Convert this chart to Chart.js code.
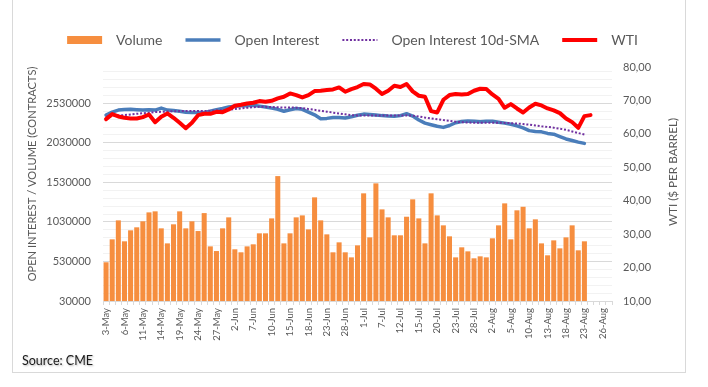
<!DOCTYPE html>
<html>
<head>
<meta charset="utf-8">
<script src="https://cdn.jsdelivr.net/npm/chart.js@4.4.0/dist/chart.umd.min.js"></script>
<style>
    html, body { margin: 0; padding: 0; background: #fff; }
    #wrap { position: relative; width: 708px; height: 387px; overflow: hidden; }
    #frame { position: absolute; left: 12px; top: -2px; width: 672px; height: 373px; border: 1px solid #d9d9d9; }
    #source { position: absolute; left: 22px; top: 353px; font: 12.5px Lato, sans-serif; color: #1a1a1a; text-shadow: 1px 1px 2px rgba(0, 0, 0, 0.3); }
    canvas { position: absolute; left: 0; top: 0; }
</style>
</head>
<body>
<div id="wrap">
    <div id="frame"></div>
    <canvas id="wtiVolumeChart" width="708" height="387"></canvas>
    <div id="source">Source: CME</div>
</div>
<script>
// business days, 3-May to 27-Aug
let dates = [
    "3-May", "4-May", "5-May", "6-May", "7-May", "10-May", "11-May", "12-May", "13-May", "14-May",
    "17-May", "18-May", "19-May", "20-May", "21-May", "24-May", "25-May", "26-May", "27-May", "28-May",
    "1-Jun", "2-Jun", "3-Jun", "4-Jun", "7-Jun", "8-Jun", "9-Jun", "10-Jun", "11-Jun", "14-Jun",
    "15-Jun", "16-Jun", "17-Jun", "18-Jun", "21-Jun", "22-Jun", "23-Jun", "24-Jun", "25-Jun", "28-Jun",
    "29-Jun", "30-Jun", "1-Jul", "2-Jul", "6-Jul", "7-Jul", "8-Jul", "9-Jul", "12-Jul", "13-Jul",
    "14-Jul", "15-Jul", "16-Jul", "19-Jul", "20-Jul", "21-Jul", "22-Jul", "23-Jul", "26-Jul", "27-Jul",
    "28-Jul", "29-Jul", "30-Jul", "2-Aug", "3-Aug", "4-Aug", "5-Aug", "6-Aug", "9-Aug", "10-Aug",
    "11-Aug", "12-Aug", "13-Aug", "16-Aug", "17-Aug", "18-Aug", "19-Aug", "20-Aug", "23-Aug", "24-Aug",
    "25-Aug", "26-Aug", "27-Aug",
];

let volume = [
    520000, 810000, 1050000, 785000, 924000, 962000, 1038000, 1151000, 1164000, 949000,
    759000, 1000000, 1164000, 949000, 1038000, 915000, 1142000, 721000, 662000, 949000,
    1088000, 684000, 646000, 721000, 747000, 886000, 886000, 1075000, 1610000, 759000,
    886000, 1088000, 1113000, 936000, 1341000, 1050000, 873000, 646000, 772000, 646000,
    582000, 734000, 1392000, 835000, 1518000, 1189000, 1088000, 861000, 861000, 1096000,
    1316000, 1075000, 759000, 1392000, 1113000, 987000, 848000, 582000, 709000, 658000,
    570000, 595000, 582000, 823000, 987000, 1265000, 810000, 1177000, 1222000, 949000,
    1063000, 759000, 608000, 797000, 696000, 835000, 987000, 671000, 785000,
];

let openInterest = [
    2381000, 2420000, 2445000, 2453000, 2455000, 2450000, 2445000, 2450000, 2445000, 2470000,
    2445000, 2440000, 2430000, 2418000, 2415000, 2415000, 2415000, 2430000, 2450000, 2465000,
    2485000, 2495000, 2500000, 2500000, 2505000, 2495000, 2485000, 2470000, 2455000, 2430000,
    2450000, 2465000, 2455000, 2420000, 2385000, 2335000, 2340000, 2350000, 2350000, 2345000,
    2360000, 2380000, 2394000, 2390000, 2382000, 2375000, 2370000, 2368000, 2375000, 2400000,
    2370000, 2320000, 2280000, 2260000, 2240000, 2226000, 2250000, 2285000, 2300000, 2306000,
    2305000, 2298000, 2305000, 2305000, 2292000, 2280000, 2265000, 2245000, 2220000, 2185000,
    2175000, 2170000, 2150000, 2140000, 2110000, 2080000, 2060000, 2040000, 2024000,
];

let openInterestSma = [
    2360000, 2370000, 2378000, 2381000, 2390000, 2398000, 2405000, 2412000, 2420000, 2423000,
    2426000, 2430000, 2432000, 2432000, 2432000, 2432000, 2433000, 2436000, 2440000, 2445000,
    2450000, 2458000, 2466000, 2474000, 2482000, 2486000, 2486000, 2484000, 2480000, 2478000,
    2478000, 2476000, 2470000, 2458000, 2448000, 2436000, 2425000, 2413000, 2403000, 2392000,
    2380000, 2378000, 2378000, 2378000, 2378000, 2378000, 2378000, 2378000, 2378000, 2378000,
    2375000, 2365000, 2350000, 2340000, 2328000, 2318000, 2308000, 2298000, 2292000, 2288000,
    2285000, 2285000, 2285000, 2285000, 2285000, 2283000, 2280000, 2275000, 2268000, 2260000,
    2250000, 2240000, 2232000, 2222000, 2210000, 2195000, 2175000, 2155000, 2135000,
];

let wti = [
    64.4, 65.9, 65.2, 64.8, 64.6, 64.6, 65.0, 65.8, 63.5, 65.1,
    66.1, 64.8, 63.3, 61.7, 63.3, 65.6, 66.0, 66.0, 66.6, 66.5,
    67.3, 68.4, 68.7, 69.1, 69.3, 69.8, 69.6, 69.9, 70.6, 71.1,
    72.1, 71.6, 70.9, 71.6, 72.8, 72.9, 73.1, 73.3, 73.9, 72.6,
    73.4, 74.0, 74.9, 74.8, 73.5, 71.9, 72.9, 74.4, 74.0, 74.9,
    72.7, 71.4, 71.1, 66.8, 66.4, 70.2, 71.6, 71.9, 71.8, 71.9,
    72.9, 73.5, 73.4, 71.8, 70.5, 67.8, 68.9, 67.6, 66.4, 67.9,
    69.0, 68.5, 67.6, 67.0, 66.2, 64.6, 63.5, 61.8, 65.3, 65.6,
];

let volumeTicks = [30000, 530000, 1030000, 1530000, 2030000, 2530000];
let wtiTicks = [10, 20, 30, 40, 50, 60, 70, 80];

const textGrey = "#595959";
Chart.defaults.font.family = "Lato";
Chart.defaults.color = textGrey;

// extra room under the legend so the plot top lands on the 80,00 line
const legendSpacer = {
    id: "legendSpacer",
    beforeInit(chart) {
        const fit = chart.legend.fit;
        chart.legend.fit = function () {
            fit.call(this);
            this.height += 10;
        };
    },
};

// both axis titles read bottom-to-top, like the excel original
const axisTitles = {
    id: "axisTitles",
    afterDraw(chart) {
        const c = chart.ctx;
        const titles = [
            { text: "OPEN INTEREST / VOLUME (CONTRACTS)", x: 32, y: 174, size: 11.1 },
            { text: "WTI ($ PER BARREL)", x: 673, y: 172, size: 11.7 },
        ];
        titles.forEach((t) => {
            c.save();
            c.translate(t.x, t.y);
            c.rotate(-Math.PI / 2);
            c.font = t.size + "px Lato";
            c.fillStyle = textGrey;
            c.textAlign = "center";
            c.textBaseline = "middle";
            c.fillText(t.text, 0, 0);
            c.restore();
        });
    },
};

let ctx = document.getElementById("wtiVolumeChart").getContext("2d");

let wtiVolumeChart = new Chart(ctx, {
    type: "bar",
    data: {
        labels: dates,
        datasets: [
            {
                label: "Volume",
                data: volume,
                backgroundColor: "#F68E3F",
                borderColor: "#F68E3F",
                borderWidth: 0,
                barPercentage: 0.82,
                categoryPercentage: 1,
                yAxisID: "y",
                order: 4,
            },
            {
                type: "line",
                label: "Open Interest",
                data: openInterest,
                borderColor: "#4A7DBA",
                backgroundColor: "#4A7DBA",
                borderWidth: 3.5,
                pointRadius: 0,
                borderJoinStyle: "round",
                borderCapStyle: "round",
                yAxisID: "y",
                order: 3,
            },
            {
                type: "line",
                label: "Open Interest 10d-SMA",
                data: openInterestSma,
                borderColor: "#7030A0",
                backgroundColor: "#7030A0",
                borderWidth: 2,
                borderDash: [2, 1.8],
                pointRadius: 0,
                yAxisID: "y",
                order: 2,
            },
            {
                type: "line",
                label: "WTI",
                data: wti,
                borderColor: "#FF0000",
                backgroundColor: "#FF0000",
                borderWidth: 4,
                pointRadius: 0,
                borderJoinStyle: "round",
                borderCapStyle: "round",
                yAxisID: "y1",
                order: 1,
            },
        ],
    },
    options: {
        responsive: false,
        animation: false,
        layout: {
            padding: { left: 21, right: 24, top: 10, bottom: 30 },
        },
        plugins: {
            tooltip: { enabled: false },
            legend: {
                labels: {
                    usePointStyle: true,
                    pointStyleWidth: 35,
                    boxHeight: 8,
                    padding: 23,
                    color: textGrey,
                    font: { size: 14 },
                    generateLabels: (chart) => chart.data.datasets.map((ds, i) => ({
                        text: "\u2002" + ds.label,
                        datasetIndex: i,
                        pointStyle: i === 0 ? "rect" : "line",
                        fillStyle: ds.backgroundColor,
                        strokeStyle: ds.borderColor,
                        lineWidth: i === 0 ? 0 : ds.borderWidth,
                        lineDash: ds.borderDash || [],
                        fontColor: textGrey,
                        hidden: false,
                    })),
                },
            },
        },
        scales: {
            x: {
                offset: true,
                grid: { drawOnChartArea: false, tickLength: 4, color: "#d9d9d9" },
                border: { color: "#d9d9d9" },
                ticks: {
                    autoSkip: false,
                    maxRotation: 90,
                    minRotation: 90,
                    padding: 3,
                    font: { size: 9.5 },
                    callback: (value, index) => (index % 3 === 0 ? dates[index] : ""),
                },
                afterFit: (axis) => { axis.height = 56; },
            },
            y: {
                position: "left",
                min: 30000,
                max: 2990000,
                afterBuildTicks: (axis) => {
                    let ticks = [];
                    for (let v = 30000; v <= 2990000; v += 100000) ticks.push({ value: v });
                    axis.ticks = ticks;
                },
                grid: {
                    drawTicks: false,
                    color: (c) => (volumeTicks.includes(c.tick.value) ? "#d9d9d9" : "#f2f2f2"),
                },
                border: { display: false },
                ticks: {
                    autoSkip: false,
                    padding: 12,
                    font: { size: 11 },
                    callback: (value) => (volumeTicks.includes(value) ? String(value) : ""),
                },
                afterFit: (axis) => { axis.width = 82; },
            },
            y1: {
                position: "right",
                min: 10,
                max: 80,
                afterBuildTicks: (axis) => { axis.ticks = wtiTicks.map((v) => ({ value: v })); },
                grid: { drawOnChartArea: false, drawTicks: false },
                border: { display: false },
                ticks: {
                    padding: 11,
                    font: { size: 11 },
                    callback: (value) => value.toFixed(2).replace(".", ","),
                },
                afterFit: (axis) => { axis.width = 72; },
            },
        },
    },
    plugins: [legendSpacer, axisTitles],
});
</script>
</body>
</html>
